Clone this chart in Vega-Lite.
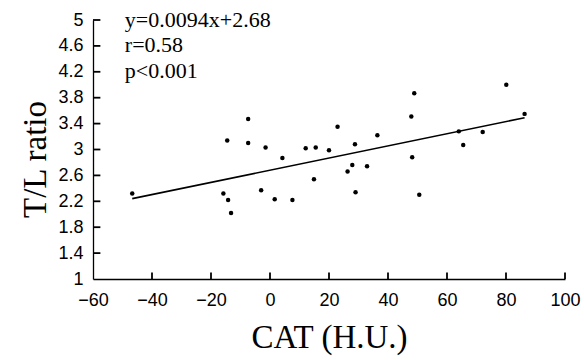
{
  "$schema": "https://vega.github.io/schema/vega-lite/v6.json",
  "autosize": "none",
  "width": 472,
  "height": 259,
  "padding": {"left": 93, "top": 20, "right": 19, "bottom": 81},
  "background": "white",
  "config": {"view": {"stroke": null}},
  "datasets": {
    "pts": [
      {"cat": -46.7, "tl": 2.32},
      {"cat": -15.8, "tl": 2.32},
      {"cat": -14.2, "tl": 2.22},
      {"cat": -13.2, "tl": 2.02},
      {"cat": -14.5, "tl": 3.14},
      {"cat": -7.4, "tl": 3.47},
      {"cat": -7.4, "tl": 3.10},
      {"cat": -3.0, "tl": 2.37},
      {"cat": -1.5, "tl": 3.03},
      {"cat": 1.6, "tl": 2.23},
      {"cat": 4.2, "tl": 2.87},
      {"cat": 7.6, "tl": 2.22},
      {"cat": 12.1, "tl": 3.02},
      {"cat": 14.9, "tl": 2.54},
      {"cat": 15.5, "tl": 3.03},
      {"cat": 20.0, "tl": 2.99},
      {"cat": 22.9, "tl": 3.35},
      {"cat": 26.3, "tl": 2.66},
      {"cat": 27.9, "tl": 2.76},
      {"cat": 28.8, "tl": 3.08},
      {"cat": 29.0, "tl": 2.34},
      {"cat": 32.9, "tl": 2.74},
      {"cat": 36.4, "tl": 3.22},
      {"cat": 47.9, "tl": 3.51},
      {"cat": 48.9, "tl": 3.87},
      {"cat": 48.2, "tl": 2.88},
      {"cat": 50.6, "tl": 2.30},
      {"cat": 64.0, "tl": 3.28},
      {"cat": 65.5, "tl": 3.07},
      {"cat": 72.1, "tl": 3.27},
      {"cat": 80.1, "tl": 4.00},
      {"cat": 86.3, "tl": 3.55}
    ],
    "fit": [
      {"cat": -46.7, "tl": 2.241},
      {"cat": 86.3, "tl": 3.491}
    ],
    "notes": [
      {"cat": -49.2, "tl": 4.89, "label": "y=0.0094x+2.68"},
      {"cat": -49.2, "tl": 4.50, "label": "r=0.58"},
      {"cat": -49.2, "tl": 4.10, "label": "p<0.001"}
    ],
    "yticks": [
      {"cat": -60, "tl": 1.4}, {"cat": -60, "tl": 1.8}, {"cat": -60, "tl": 2.2},
      {"cat": -60, "tl": 2.6}, {"cat": -60, "tl": 3}, {"cat": -60, "tl": 3.4},
      {"cat": -60, "tl": 3.8}, {"cat": -60, "tl": 4.2}, {"cat": -60, "tl": 4.6},
      {"cat": -60, "tl": 5}
    ],
    "xticks": [
      {"cat": -40, "tl": 1}, {"cat": -20, "tl": 1}, {"cat": 0, "tl": 1},
      {"cat": 20, "tl": 1}, {"cat": 40, "tl": 1}, {"cat": 60, "tl": 1},
      {"cat": 80, "tl": 1}, {"cat": 100, "tl": 1}
    ]
  },
  "encoding": {
    "x": {
      "field": "cat", "type": "quantitative",
      "scale": {"domain": [-60, 100], "nice": false, "zero": false},
      "axis": {
        "values": [-60, -40, -20, 0, 20, 40, 60, 80, 100],
        "grid": false,
        "domainColor": "black", "domainWidth": 1.3,
        "ticks": false,
        "labelPadding": 12, "labelFont": "Liberation Sans", "labelFontSize": 18, "labelColor": "black",
        "labelFlush": false, "labelOverlap": false, "labelBound": false,
        "title": "CAT (H.U.)", "titleFont": "Liberation Serif", "titleFontSize": 33, "titleFontWeight": "normal",
        "titleColor": "black", "titlePadding": 12
      }
    },
    "y": {
      "field": "tl", "type": "quantitative",
      "scale": {"domain": [1, 5], "nice": false, "zero": false},
      "axis": {
        "values": [1, 1.4, 1.8, 2.2, 2.6, 3, 3.4, 3.8, 4.2, 4.6, 5],
        "format": "~g",
        "grid": false,
        "domainColor": "black", "domainWidth": 1.3,
        "ticks": false,
        "labelPadding": 10, "labelFont": "Liberation Sans", "labelFontSize": 18, "labelColor": "black",
        "labelFlush": false, "labelOverlap": false, "labelBound": false,
        "title": "T/L ratio", "titleFont": "Liberation Serif", "titleFontSize": 33, "titleFontWeight": "normal",
        "titleColor": "black", "titleAngle": -90, "titleX": -58, "titleY": 139,
        "titleAlign": "center", "titleBaseline": "middle"
      }
    }
  },
  "layer": [
    {
      "data": {"name": "yticks"},
      "mark": {"type": "rule", "color": "black", "strokeWidth": 1.8},
      "encoding": {"x2": {"datum": -57.5}}
    },
    {
      "data": {"name": "xticks"},
      "mark": {"type": "rule", "color": "black", "strokeWidth": 1.8},
      "encoding": {"y2": {"datum": 1.1}}
    },
    {
      "data": {"name": "pts"},
      "mark": {"type": "point", "filled": true, "shape": "circle", "size": 20, "color": "black", "opacity": 1}
    },
    {
      "data": {"name": "fit"},
      "mark": {"type": "line", "color": "black", "strokeWidth": 1.6}
    },
    {
      "data": {"name": "notes"},
      "mark": {"type": "text", "align": "left", "baseline": "alphabetic", "font": "Liberation Serif", "fontSize": 22, "color": "black"},
      "encoding": {
        "text": {"field": "label"}
      }
    }
  ]
}
